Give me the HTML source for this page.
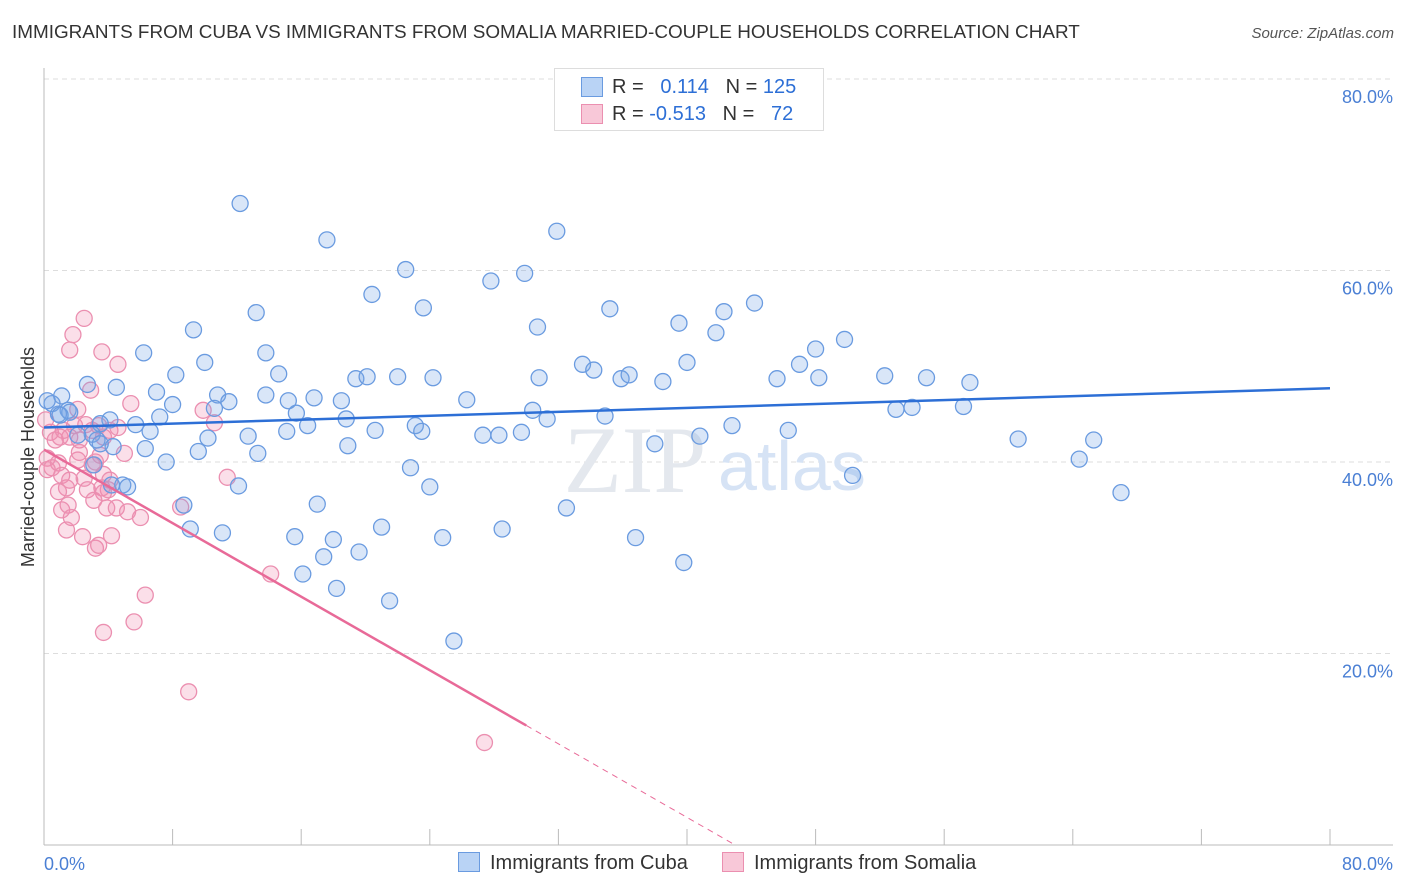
<!DOCTYPE html>
<html><head><meta charset="utf-8"><style>
body{margin:0;background:#fff;font-family:"Liberation Sans",sans-serif;}
#wrap{position:relative;width:1406px;height:892px;overflow:hidden;}
.t{position:absolute;white-space:nowrap;}
</style></head><body>
<div id="wrap">
<div class="t" style="left:12px;top:22px;font-size:18.9px;color:#333;">IMMIGRANTS FROM CUBA VS IMMIGRANTS FROM SOMALIA MARRIED-COUPLE HOUSEHOLDS CORRELATION CHART</div>
<div class="t" style="right:12px;top:25px;font-size:15px;color:#555;font-style:italic;">Source: ZipAtlas.com</div>
<svg id="svg" width="1406" height="892" style="position:absolute;left:0;top:0"></svg>
</div>
<script>
const cubaX=[12.2,17.6,31.9,22.5,27.8,29.9,20.4,23.6,13.2,35.2,30.7,39.5,42.3,44.2,41.8,9.3,6.2,13.8,10.0,8.2,2.7,4.5,7.0,10.8,11.5,13.8,14.6,16.8,18.5,19.4,20.1,22.0,24.2,26.3,30.8,33.5,34.2,35.9,36.4,38.5,40.0,45.6,47.0,48.0,48.2,49.8,52.3,54.9,57.6,53.0,54.0,57.2,60.6,64.4,65.3,67.0,50.3,46.3,42.8,40.8,38.0,34.9,31.3,30.4,29.7,28.3,27.3,23.1,23.5,20.6,18.8,18.9,16.4,15.7,15.1,15.2,12.7,13.3,10.2,9.6,10.6,12.1,7.6,6.6,6.3,5.7,7.2,8.0,4.1,3.5,3.0,3.3,4.3,1.5,1.1,1.6,0.9,0.5,0.2,1.0,2.1,3.5,3.1,4.9,5.2,4.2,8.7,9.1,11.1,17.0,15.6,17.4,18.0,19.6,21.0,22.8,24.0,24.8,28.5,32.5,36.8,39.8,21.5,18.2,16.1,25.5];
const cubaY=[67.0,63.2,64.1,60.1,58.9,59.7,57.5,56.1,55.6,56.0,54.1,54.5,55.7,56.6,53.5,53.8,51.4,51.4,50.4,49.1,48.1,47.8,47.3,47.0,46.3,47.0,49.2,46.7,46.4,48.7,48.9,48.9,48.8,46.5,48.8,50.2,49.6,48.7,49.1,48.4,50.4,48.7,50.2,51.8,48.8,52.8,49.0,48.8,48.3,45.5,45.7,45.8,42.4,40.3,42.3,36.8,38.6,43.3,43.8,42.7,41.9,44.8,44.5,45.4,43.1,42.8,42.8,43.8,43.2,43.3,44.5,41.7,43.8,45.1,43.2,46.4,42.7,40.9,42.5,41.1,45.6,37.5,40.0,43.2,41.4,43.9,44.7,46.0,44.4,44.0,42.9,42.3,41.6,45.4,46.9,45.2,45.0,46.1,46.4,44.9,42.8,41.9,39.7,37.6,37.4,37.6,35.5,33.0,32.6,35.6,32.2,30.1,31.9,30.6,33.2,39.4,37.4,32.1,33.0,35.2,32.1,29.5,25.5,26.8,28.3,21.3];
const somX=[2.5,1.8,1.6,3.6,4.6,2.9,2.1,5.4,9.9,10.6,0.1,0.4,0.7,1.0,1.2,1.6,1.9,2.2,2.6,3.0,3.4,3.7,4.1,4.6,5.0,0.2,0.5,0.9,1.1,1.4,1.6,2.1,2.5,3.0,3.2,3.7,4.0,0.2,0.9,1.1,1.5,1.7,2.4,3.2,3.4,3.7,4.1,4.2,3.9,4.5,5.2,6.0,8.5,14.1,11.4,6.3,5.6,3.7,9.0,27.4,1.4,2.7,3.5,3.6,3.1,2.2];
const somY=[55.0,53.3,51.7,51.5,50.2,47.5,45.5,46.1,45.4,44.1,44.4,43.1,42.3,42.6,43.3,42.6,43.8,42.3,43.9,43.3,43.8,42.6,43.3,43.6,40.9,40.4,39.4,39.9,38.6,37.3,38.1,40.2,38.3,39.7,40.0,38.7,37.1,39.2,36.9,35.0,35.5,34.2,32.2,31.0,31.3,36.8,38.1,32.3,35.2,35.2,34.8,34.2,35.3,28.3,38.4,26.1,23.3,22.2,16.0,10.7,32.9,37.1,40.7,37.3,36.0,41.0];
const cubaTrend=[43.6,47.7];
const somTrendStart=41.3, somTrendSolidEnd=30.0, somTrendZero=43.0;
const xTickLabels=["0.0%","80.0%"];
const yTicks=[20,40,60,80];
const yTickLabels=["20.0%","40.0%","60.0%","80.0%"];

const X0=44,X1=1330,Y0=845,Y80=79;
const sx=v=>X0+(X1-X0)*v/80;
const sy=v=>Y0-(Y0-Y80)*v/80;
const svg=document.getElementById('svg');
const NS='http://www.w3.org/2000/svg';
function mk(tag,attrs,parent){const e=document.createElementNS(NS,tag);for(const k in attrs)e.setAttribute(k,attrs[k]);(parent||svg).appendChild(e);return e;}

for(let i=0;i<yTicks.length;i++){
  const g=mk('line',{x1:X0,x2:1393,y1:sy(yTicks[i]),y2:sy(yTicks[i]),stroke:'#ddd','stroke-dasharray':'5,4'});
  
  
  const t=mk('text',{x:1393,y:sy(yTicks[i])+24,'text-anchor':'end','font-size':18,fill:'#4a7fd4','font-family':'Liberation Sans'});
  t.textContent=yTickLabels[i];
  
  
}
const ax=mk('line',{x1:X0,x2:1393,y1:Y0,y2:Y0,stroke:'#bbb'});


const ay=mk('line',{x1:X0,x2:X0,y1:68,y2:Y0,stroke:'#bbb'});


for(let i=0;i<=10;i++){
  const tk=mk('line',{x1:sx(i*8),x2:sx(i*8),y1:Y0,y2:Y0-16,stroke:'#bbb'});
  
  
}
const xl0=mk('text',{x:44,y:870,'font-size':18,fill:'#4a7fd4','font-family':'Liberation Sans'});xl0.textContent=xTickLabels[0];


const xl1=mk('text',{x:1393,y:870,'text-anchor':'end','font-size':18,fill:'#4a7fd4','font-family':'Liberation Sans'});xl1.textContent=xTickLabels[1];


const yt=mk('text',{x:34,y:457,transform:'rotate(-90 34 457)','text-anchor':'middle','font-size':18,fill:'#333','font-family':'Liberation Sans'});yt.textContent='Married-couple Households';


const wm=mk('text',{x:635,y:492,'text-anchor':'middle','font-size':95,fill:'#e4e8ee','font-family':'Liberation Serif'});wm.textContent='ZIP';


const wm2=mk('text',{x:718,y:490,'font-size':70,fill:'#d6e3f5','font-family':'Liberation Sans'});wm2.textContent='atlas';



for(let i=0;i<somX.length;i++){
  const c=mk('circle',{cx:sx(somX[i]),cy:sy(somY[i]),r:8,fill:'rgba(240,140,175,0.28)',stroke:'#eb8fb0','stroke-width':1.3});
  
  
}
for(let i=0;i<cubaX.length;i++){
  const c=mk('circle',{cx:sx(cubaX[i]),cy:sy(cubaY[i]),r:8,fill:'rgba(120,165,230,0.28)',stroke:'#6a9be0','stroke-width':1.3});
  
  
}
const tl=mk('line',{x1:sx(0),y1:sy(cubaTrend[0]),x2:sx(80),y2:sy(cubaTrend[1]),stroke:'#2d6fd6','stroke-width':2.5});


const f=x=>somTrendStart*(1-x/somTrendZero);
const sl=mk('line',{x1:sx(0),y1:sy(f(0)),x2:sx(somTrendSolidEnd),y2:sy(f(somTrendSolidEnd)),stroke:'#e86a98','stroke-width':2.5});


const sd=mk('line',{x1:sx(somTrendSolidEnd),y1:sy(f(somTrendSolidEnd)),x2:sx(somTrendZero),y2:sy(0),stroke:'#e86a98','stroke-width':1,'stroke-dasharray':'6,5'});


</script>
<div class="t" style="left:554px;top:68px;width:268px;height:61px;border:1px solid #ddd;background:#fff;font-size:20px;">
  <div style="position:absolute;left:26px;top:8px;width:20px;height:18px;background:#b9d3f5;border:1px solid #6a9be0"></div>
  <div class="t" style="left:57px;top:7px;color:#333">R = <span style="color:#2d6fd6">&nbsp;&nbsp;0.114</span>&nbsp;&nbsp;&nbsp;N = <span style="color:#2d6fd6">125</span></div>
  <div style="position:absolute;left:26px;top:35px;width:20px;height:18px;background:#f8c8d8;border:1px solid #eb8fb0"></div>
  <div class="t" style="left:57px;top:34px;color:#333">R = <span style="color:#2d6fd6">-0.513</span>&nbsp;&nbsp;&nbsp;N = <span style="color:#2d6fd6">&nbsp;&nbsp;72</span></div>
</div>
<div class="t" style="left:458px;top:852px;font-size:20px;color:#333;">
  <span style="display:inline-block;width:20px;height:18px;background:#b9d3f5;border:1px solid #6a9be0;vertical-align:-3px;margin-right:10px"></span>Immigrants from Cuba</div>
<div class="t" style="left:722px;top:852px;font-size:20px;color:#333;">
  <span style="display:inline-block;width:20px;height:18px;background:#f8c8d8;border:1px solid #eb8fb0;vertical-align:-3px;margin-right:10px"></span>Immigrants from Somalia</div>
</body></html>
